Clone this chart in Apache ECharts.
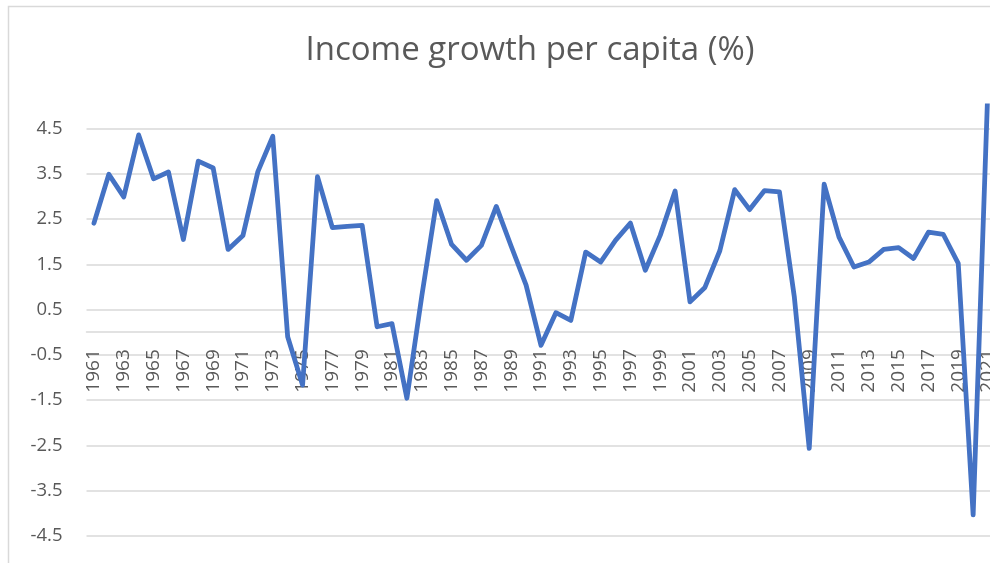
<!DOCTYPE html>
<html>
<head>
<meta charset="utf-8">
<title>Income growth per capita (%)</title>
<script src="https://cdn.jsdelivr.net/npm/echarts@6/dist/echarts.min.js"></script>
<style>
  html, body { margin: 0; padding: 0; background: #ffffff; }
  #chart { width: 990px; height: 563px; }
</style>
</head>
<body>
<div id="chart"></div>
<script>
// years 1961..2021
const years = [
  '1961', '1962', '1963', '1964', '1965', '1966', '1967', '1968', '1969', '1970',
  '1971', '1972', '1973', '1974', '1975', '1976', '1977', '1978', '1979', '1980',
  '1981', '1982', '1983', '1984', '1985', '1986', '1987', '1988', '1989', '1990',
  '1991', '1992', '1993', '1994', '1995', '1996', '1997', '1998', '1999', '2000',
  '2001', '2002', '2003', '2004', '2005', '2006', '2007', '2008', '2009', '2010',
  '2011', '2012', '2013', '2014', '2015', '2016', '2017', '2018', '2019', '2020',
  '2021'
];

// income growth per capita, %
const growth = [
  2.41, 3.49, 2.99, 4.36, 3.39, 3.54, 2.05, 3.78, 3.63, 1.83,
  2.14, 3.55, 4.33, -0.10, -1.17, 3.44, 2.31, 2.34, 2.36, 0.12,
  0.19, -1.46, 0.80, 2.91, 1.94, 1.59, 1.92, 2.78, 1.90, 1.04,
  -0.29, 0.43, 0.26, 1.77, 1.55, 2.03, 2.41, 1.37, 2.14, 3.12,
  0.67, 0.99, 1.80, 3.15, 2.71, 3.13, 3.10, 0.78, -2.57, 3.27,
  2.10, 1.44, 1.55, 1.83, 1.87, 1.63, 2.21, 2.16, 1.52, -4.04,
  5.5
];

const yMin = -5.5;
const yMax = 5;
const yStep = 1;

const textGrey = '#595959';
const gridGrey = '#d9d9d9';

// plot box (the picture is cropped at the right and bottom edges)
const gridTop = 106;
const gridHeight = 475;
// the category axis sits at y = 0; lift it from the bottom edge by that much
const zeroLift = gridHeight * (0 - yMin) / (yMax - yMin);

const chart = echarts.init(document.getElementById('chart'), null, { renderer: 'canvas' });

chart.setOption({
  backgroundColor: '#ffffff',
  animation: false,
  title: {
    text: 'Income growth per capita (%)',
    left: 525,
    top: 29,
    textAlign: 'center',
    textStyle: {
      fontFamily: 'Open Sans',
      fontSize: 33,
      fontWeight: 'normal',
      color: textGrey
    }
  },
  graphic: [{
    type: 'rect',
    silent: true,
    shape: { x: 8.5, y: 6.5, width: 1200, height: 800 },
    style: { fill: 'none', stroke: gridGrey, lineWidth: 1.5 }
  }],
  grid: {
    left: 86.5,
    top: gridTop,
    width: 909,
    height: gridHeight,
    containLabel: false,
    outerBoundsMode: 'none'
  },
  xAxis: {
    type: 'category',
    data: years,
    boundaryGap: true,
    position: 'bottom',
    offset: -zeroLift,
    axisLine: { onZero: false, lineStyle: { color: gridGrey, width: 1.5 } },
    axisTick: { show: false },
    splitLine: { show: false },
    axisLabel: {
      interval: 1,
      rotate: 90,
      margin: 17,
      fontFamily: 'Open Sans',
      fontSize: 19,
      color: textGrey
    }
  },
  yAxis: {
    type: 'value',
    min: yMin,
    max: yMax,
    interval: yStep,
    axisLine: { show: false },
    axisTick: { show: false },
    axisLabel: {
      margin: 24,
      showMaxLabel: false,
      fontFamily: 'Open Sans',
      fontSize: 18.5,
      color: textGrey,
      formatter: v => v.toFixed(1)
    },
    splitLine: {
      showMaxLine: false,
      lineStyle: { color: gridGrey, width: 1.5 }
    }
  },
  series: [{
    type: 'line',
    data: growth,
    clip: true,
    showSymbol: false,
    symbol: 'none',
    lineStyle: { color: '#4472C4', width: 4.8, cap: 'round', join: 'round' }
  }]
});
</script>
</body>
</html>
